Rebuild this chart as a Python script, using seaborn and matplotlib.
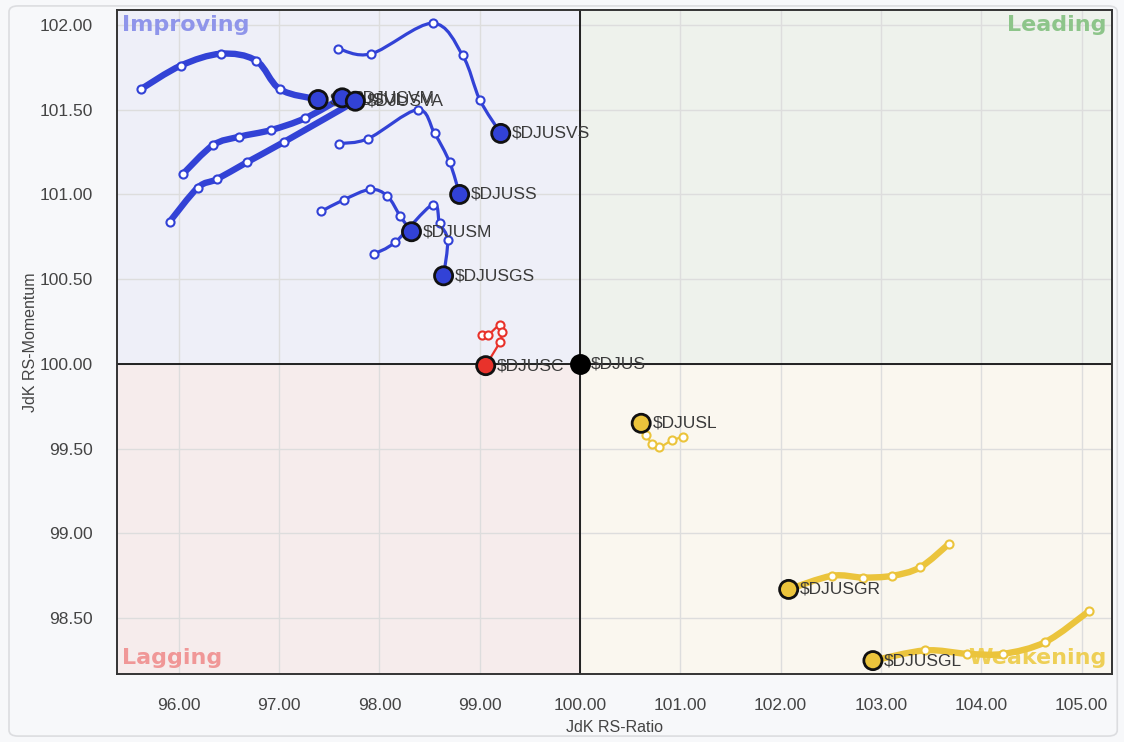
import numpy as np
import pandas as pd
import matplotlib
matplotlib.use("Agg")
import matplotlib.pyplot as plt
from matplotlib.path import Path
from matplotlib.patches import PathPatch, Rectangle, FancyBboxPatch
import seaborn as sns

# tails: RS-Ratio (x) and RS-Momentum (y), oldest point first, last = current
djusvl_x = [95.62, 96.02, 96.42, 96.77, 97.01, 97.39]
djusvl_y = [101.62, 101.76, 101.83, 101.79, 101.62, 101.56]
djusvm_x = [96.04, 96.34, 96.60, 96.92, 97.26, 97.63]
djusvm_y = [101.12, 101.29, 101.34, 101.38, 101.45, 101.57]
djusva_x = [95.91, 96.19, 96.38, 96.68, 97.05, 97.76]
djusva_y = [100.84, 101.04, 101.09, 101.19, 101.31, 101.55]
djusvs_x = [97.59, 97.92, 98.53, 98.83, 99.00, 99.21]
djusvs_y = [101.86, 101.83, 102.01, 101.82, 101.56, 101.36]
djuss_x = [97.60, 97.89, 98.38, 98.55, 98.70, 98.80]
djuss_y = [101.30, 101.33, 101.50, 101.36, 101.19, 101.00]
djusm_x = [97.42, 97.65, 97.91, 98.08, 98.21, 98.32]
djusm_y = [100.90, 100.97, 101.03, 100.99, 100.87, 100.78]
djusgs_x = [97.95, 98.16, 98.53, 98.60, 98.68, 98.64]
djusgs_y = [100.65, 100.72, 100.94, 100.83, 100.73, 100.52]
djusc_x = [99.02, 99.08, 99.20, 99.22, 99.20, 99.06]
djusc_y = [100.17, 100.17, 100.23, 100.19, 100.13, 99.99]
djusl_x = [101.03, 100.92, 100.79, 100.72, 100.66, 100.61]
djusl_y = [99.57, 99.55, 99.51, 99.53, 99.58, 99.65]
djusgr_x = [103.68, 103.39, 103.11, 102.82, 102.51, 102.08]
djusgr_y = [98.94, 98.80, 98.75, 98.74, 98.75, 98.67]
djusgl_x = [105.07, 104.64, 104.22, 103.86, 103.44, 102.92]
djusgl_y = [98.54, 98.36, 98.29, 98.29, 98.31, 98.25]
benchmark_x = [100.0]
benchmark_y = [100.0]

x_ticks = [96, 97, 98, 99, 100, 101, 102, 103, 104, 105]
y_ticks = [98.5, 99.0, 99.5, 100.0, 100.5, 101.0, 101.5, 102.0]

tails = {
    "$DJUSVL": (djusvl_x, djusvl_y),
    "$DJUSVM": (djusvm_x, djusvm_y),
    "$DJUSVA": (djusva_x, djusva_y),
    "$DJUSVS": (djusvs_x, djusvs_y),
    "$DJUSS": (djuss_x, djuss_y),
    "$DJUSM": (djusm_x, djusm_y),
    "$DJUSGS": (djusgs_x, djusgs_y),
    "$DJUSC": (djusc_x, djusc_y),
    "$DJUSL": (djusl_x, djusl_y),
    "$DJUSGR": (djusgr_x, djusgr_y),
    "$DJUSGL": (djusgl_x, djusgl_y),
}

BLUE = "#3242D6"
RED = "#E8322B"
YELLOW = "#EBC43C"
style = {
    "$DJUSVL": (BLUE, 4.6), "$DJUSVM": (BLUE, 4.6), "$DJUSVA": (BLUE, 4.6),
    "$DJUSVS": (BLUE, 2.3), "$DJUSS": (BLUE, 2.3), "$DJUSM": (BLUE, 2.3),
    "$DJUSGS": (BLUE, 2.3), "$DJUSC": (RED, 1.6), "$DJUSL": (YELLOW, 1.6),
    "$DJUSGR": (YELLOW, 4.6), "$DJUSGL": (YELLOW, 4.6),
}

rows = []
for name, (xs, ys) in tails.items():
    for i, (x, y) in enumerate(zip(xs, ys)):
        rows.append({"name": name, "ratio": x, "momentum": y, "last": i == len(xs) - 1})
df = pd.DataFrame(rows)

sns.set_theme(style="white")
plt.rcParams['font.family'] = ['Liberation Sans', 'DejaVu Sans']

fig = plt.figure(figsize=(11.24, 7.42), dpi=100)
fig.patch.set_facecolor("#F7F8FA")
fig.patches.append(FancyBboxPatch((0.008, 0.008), 0.986, 0.984, boxstyle="round,pad=0,rounding_size=0.008",
                                  transform=fig.transFigure, facecolor="none", edgecolor="#DCDDE0",
                                  linewidth=1.2))
ax = fig.add_axes([0.1038, 0.0912, 0.8853, 0.8953])

xmin, xmax = 95.381, 105.301
ymin, ymax = 98.169, 102.088
ax.set_xlim(xmin, xmax)
ax.set_ylim(ymin, ymax)

# quadrant backgrounds
quads = [((xmin, 100), 100 - xmin, ymax - 100, "#EEEFF8"),
         ((100, 100), xmax - 100, ymax - 100, "#EEF2EC"),
         ((xmin, ymin), 100 - xmin, 100 - ymin, "#F6ECEC"),
         ((100, ymin), xmax - 100, 100 - ymin, "#FAF7EF")]
for xy, w, h, c in quads:
    ax.add_patch(Rectangle(xy, w, h, facecolor=c, edgecolor="none", zorder=0))

ax.set_xticks(x_ticks)
ax.set_yticks(y_ticks)
ax.set_xticklabels([f"{v:.2f}" for v in x_ticks])
ax.set_yticklabels([f"{v:.2f}" for v in y_ticks])
ax.grid(True, color="#DDDDDD", linewidth=1.0, zorder=0.5)
ax.set_axisbelow(True)
ax.tick_params(length=0, pad=17, labelsize=12.5, labelcolor="#444444")
for s in ax.spines.values():
    s.set_color("#333333")
    s.set_linewidth(1.4)
ax.axvline(100, color="#111111", linewidth=1.3, zorder=1)
ax.axhline(100, color="#111111", linewidth=1.3, zorder=1)

ax.set_xlabel("JdK RS-Ratio", fontsize=11.5, color="#444444", labelpad=5)
ax.set_ylabel("JdK RS-Momentum", fontsize=11.5, color="#444444", labelpad=1)

# quadrant names
qkw = dict(transform=ax.transAxes, fontsize=16, fontweight="bold", family="DejaVu Sans", zorder=1)
ax.text(0.005, 0.977, "Improving", color="#8F95EA", ha="left", va="center", **qkw)
ax.text(0.995, 0.977, "Leading", color="#8DC58A", ha="right", va="center", **qkw)
ax.text(0.005, 0.025, "Lagging", color="#F09797", ha="left", va="center", **qkw)
ax.text(0.995, 0.025, "Weakening", color="#EDCB45", ha="right", va="center", alpha=0.9, **qkw)


def smooth_path(xs, ys):
    p = np.column_stack([xs, ys])
    verts = [p[0]]
    codes = [Path.MOVETO]
    n = len(p)
    for i in range(n - 1):
        p0 = p[i - 1] if i > 0 else p[i]
        p3 = p[i + 2] if i + 2 < n else p[i + 1]
        c1 = p[i] + (p[i + 1] - p0) / 6.0
        c2 = p[i + 1] - (p3 - p[i]) / 6.0
        verts += [c1, c2, p[i + 1]]
        codes += [Path.CURVE4] * 3
    return Path(verts, codes)


for name, (xs, ys) in tails.items():
    color, lw = style[name]
    ax.add_patch(PathPatch(smooth_path(xs, ys), facecolor="none", edgecolor=color,
                           linewidth=lw, capstyle="round", joinstyle="round", zorder=2))

palette = {name: style[name][0] for name in tails}
trail = df[~df["last"]]
for name, sub in trail.groupby("name"):
    sns.scatterplot(data=sub, x="ratio", y="momentum", ax=ax, color="white", s=34,
                    edgecolor=palette[name], linewidth=1.5, zorder=3, legend=False)

head = df[df["last"]]
for _, r in head.iterrows():
    ax.annotate(r["name"], (r["ratio"], r["momentum"]), xytext=(8, 0), textcoords="offset points",
                va="center", ha="left", fontsize=12.5, color="#3A3A3A", zorder=4)
sns.scatterplot(data=head, x="ratio", y="momentum", hue="name", palette=palette, ax=ax, s=170,
                edgecolor="#111111", linewidth=2.0, zorder=5, legend=False)

sns.scatterplot(x=benchmark_x, y=benchmark_y, ax=ax, color="black", s=170, edgecolor="black",
                linewidth=2.0, zorder=6, legend=False)
ax.annotate("$DJUS", (benchmark_x[0], benchmark_y[0]), xytext=(8, 0), textcoords="offset points",
            va="center", ha="left", fontsize=12.5, color="#3A3A3A", zorder=4)

fig.savefig("out.png", dpi=100, facecolor=fig.get_facecolor())
